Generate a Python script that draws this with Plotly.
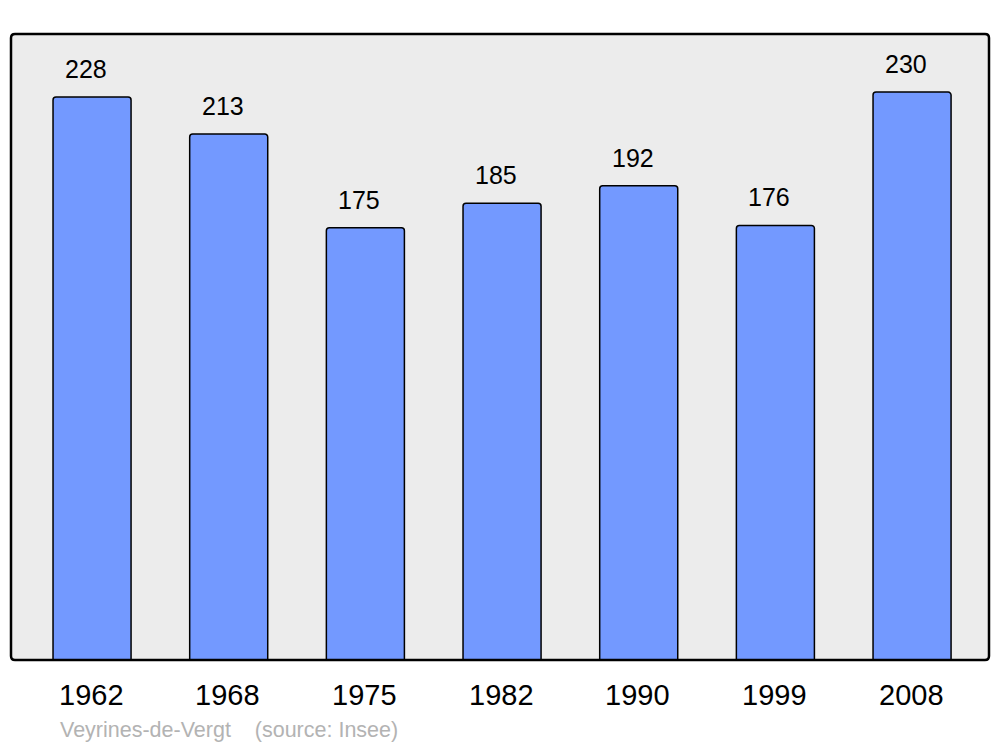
import plotly.graph_objects as go

years = ["1962", "1968", "1975", "1982", "1990", "1999", "2008"]
population = [228, 213, 175, 185, 192, 176, 230]
caption = "Veyrines-de-Vergt    (source: Insee)"

xpos = list(range(len(years)))
FONT = "Liberation Sans, Arial"

fig = go.Figure()
fig.add_trace(go.Bar(
    x=xpos, y=population, width=0.571,
    marker=dict(color="#7399ff", line=dict(color="black", width=1.5), cornerradius=3),
    hoverinfo="skip",
))

for x, v in zip(xpos, population):
    fig.add_annotation(x=x, y=v, text=str(v), showarrow=False, yanchor="middle",
                       yshift=28, xshift=-6, font=dict(size=25, color="black", family=FONT))
for x, lab in zip(xpos, years):
    fig.add_annotation(x=x, y=0, yref="paper", text=lab, showarrow=False, yanchor="middle",
                       yshift=-35, xshift=-1, font=dict(size=29, color="black", family=FONT))

fig.add_annotation(xref="paper", yref="paper", x=(61 - 11) / 978, y=-(730 - 660) / 626,
                   text=caption, showarrow=False, xanchor="left", yanchor="middle",
                   xshift=-3, font=dict(size=21.5, color="#b3b3b3", family=FONT))

# rounded frame
rx, ry = 4 / 978, 4 / 626
path = (f"M {rx},0 L {1-rx},0 Q 1,0 1,{ry} L 1,{1-ry} Q 1,1 {1-rx},1 "
        f"L {rx},1 Q 0,1 0,{1-ry} L 0,{ry} Q 0,0 {rx},0 Z")
fig.add_shape(type="path", path=path, xref="paper", yref="paper",
              line=dict(color="black", width=2.5), layer="above")

# page body has an 8px margin: compensate so the plot lands at 11..989 x 34..660
fig.update_layout(
    width=1000, height=747,
    margin=dict(l=3, r=19, t=26, b=95),
    paper_bgcolor="white", plot_bgcolor="#ececec",
    showlegend=False,
    xaxis=dict(range=[-0.593, 6.563], showticklabels=False, showgrid=False, zeroline=False, ticks=""),
    yaxis=dict(range=[0, 253.5], showticklabels=False, showgrid=False, zeroline=False, ticks=""),
)

fig.write_html("out.html")
